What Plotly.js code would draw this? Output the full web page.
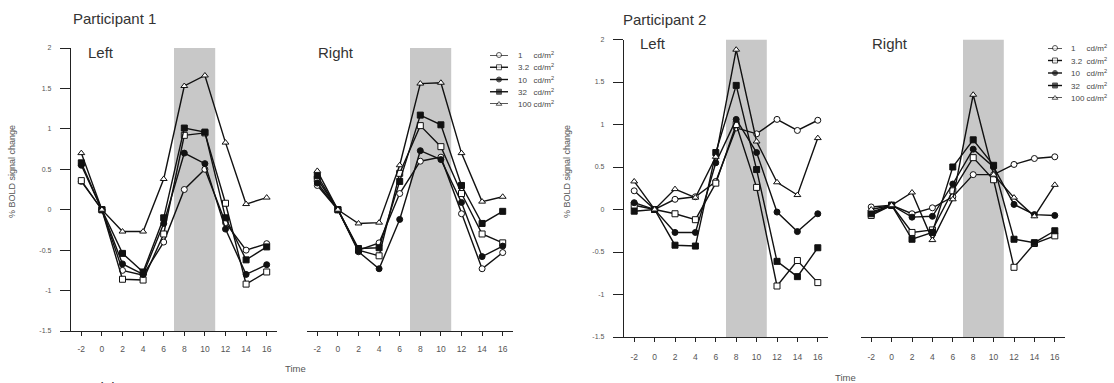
<!DOCTYPE html>
<html>
<head>
<meta charset="utf-8">
<script src="https://cdn.plot.ly/plotly-3.0.1.min.js"></script>
<style>html,body{margin:0;padding:0;background:#fff;}#chart{width:1114px;height:383px;}</style>
</head>
<body>
<div id="chart"></div>
<script>
// ---- data ----
const TIME = [-2, 0, 2, 4, 6, 8, 10, 12, 14, 16];
const LEVELS = ['1', '3.2', '10', '32', '100'];
const UNIT = 'cd/m<sup>2</sup>';
const Y_TICKS = [-1.5, -1, -0.5, 0, 0.5, 1, 1.5, 2];
const Y_TICK_TEXT = ['-1.5', '-1', '-0.5', '0', '0.5', '1', '1.5', '2'];
const STIM = [7, 11];

const P1_LEFT_1   = [0.35, 0, -0.75, -0.81, -0.40, 0.25, 0.50, -0.16, -0.50, -0.42];
const P1_LEFT_3   = [0.36, 0, -0.86, -0.87, -0.30, 0.92, 0.95, 0.08, -0.92, -0.77];
const P1_LEFT_10  = [0.55, 0, -0.67, -0.80, -0.17, 0.70, 0.57, -0.24, -0.80, -0.68];
const P1_LEFT_32  = [0.58, 0, -0.54, -0.77, -0.10, 1.01, 0.96, -0.10, -0.62, -0.46];
const P1_LEFT_100 = [0.70, 0, -0.27, -0.27, 0.38, 1.53, 1.66, 0.83, 0.07, 0.15];

const P1_RIGHT_1   = [0.30, 0, -0.50, -0.41, 0.20, 0.60, 0.65, -0.05, -0.73, -0.53];
const P1_RIGHT_3   = [0.38, 0, -0.50, -0.57, 0.45, 1.04, 0.78, 0.20, -0.30, -0.41];
const P1_RIGHT_10  = [0.33, 0, -0.52, -0.73, -0.12, 0.73, 0.62, 0.09, -0.58, -0.45];
const P1_RIGHT_32  = [0.42, 0, -0.48, -0.47, 0.35, 1.17, 1.05, 0.30, -0.17, -0.02];
const P1_RIGHT_100 = [0.48, 0, -0.17, -0.16, 0.55, 1.56, 1.57, 0.70, 0.10, 0.16];

const P2_LEFT_1   = [0.22, 0, 0.12, 0.15, 0.33, 0.96, 0.89, 1.06, 0.93, 1.05];
const P2_LEFT_3   = [0.05, 0, -0.05, -0.12, 0.31, 1.00, 0.26, -0.90, -0.60, -0.86];
const P2_LEFT_10  = [0.08, 0, -0.27, -0.27, 0.55, 1.06, 0.67, -0.03, -0.26, -0.05];
const P2_LEFT_32  = [-0.02, 0, -0.42, -0.43, 0.67, 1.46, 0.47, -0.61, -0.79, -0.45];
const P2_LEFT_100 = [0.33, 0, 0.24, 0.14, 0.62, 1.88, 0.80, 0.32, 0.17, 0.84];

const P2_RIGHT_1   = [0.03, 0.05, -0.05, 0.02, 0.15, 0.41, 0.41, 0.53, 0.60, 0.62];
const P2_RIGHT_3   = [-0.07, 0.05, -0.27, -0.24, 0.22, 0.61, 0.35, -0.68, -0.40, -0.31];
const P2_RIGHT_10  = [-0.03, 0.05, -0.09, -0.08, 0.30, 0.71, 0.50, 0.06, -0.06, -0.07];
const P2_RIGHT_32  = [-0.05, 0.05, -0.35, -0.27, 0.50, 0.82, 0.52, -0.35, -0.39, -0.25];
const P2_RIGHT_100 = [0.00, 0.05, 0.20, -0.36, 0.12, 1.35, 0.41, 0.14, -0.08, 0.29];

// ---- styling / layout ----
const W = 1114, H = 383;
const FONT = 'Arial, "Liberation Sans", sans-serif';
const px = v => v / W;
const py = v => 1 - v / H;

const STYLES = [
  {symbol: 'circle', color: '#fff'},
  {symbol: 'square', color: '#fff'},
  {symbol: 'circle', color: '#111'},
  {symbol: 'square', color: '#111'},
  {symbol: 'triangle-up', color: '#fff'}
];

const panels = [
  {xa: 'x',  ya: 'y',  series: [P1_LEFT_1, P1_LEFT_3, P1_LEFT_10, P1_LEFT_32, P1_LEFT_100]},
  {xa: 'x2', ya: 'y2', series: [P1_RIGHT_1, P1_RIGHT_3, P1_RIGHT_10, P1_RIGHT_32, P1_RIGHT_100]},
  {xa: 'x3', ya: 'y3', series: [P2_LEFT_1, P2_LEFT_3, P2_LEFT_10, P2_LEFT_32, P2_LEFT_100]},
  {xa: 'x4', ya: 'y4', series: [P2_RIGHT_1, P2_RIGHT_3, P2_RIGHT_10, P2_RIGHT_32, P2_RIGHT_100]}
];

const traces = [];
panels.forEach(p => {
  p.series.forEach((vals, i) => {
    traces.push({
      type: 'scatter', mode: 'lines+markers', x: TIME, y: vals,
      xaxis: p.xa, yaxis: p.ya, showlegend: false, hoverinfo: 'skip',
      line: {color: '#111', width: 1.4},
      marker: {symbol: STYLES[i].symbol, size: 6, color: STYLES[i].color, line: {color: '#111', width: 1}},
      cliponaxis: false
    });
  });
});

// custom compact legends (one per participant)
const legends = [
  {xa: 'x5', ya: 'y5'},
  {xa: 'x6', ya: 'y6'}
];
legends.forEach(l => {
  LEVELS.forEach((lv, i) => {
    traces.push({
      type: 'scatter', mode: 'lines+markers', x: [0, 0.5, 1], y: [i, i, i],
      xaxis: l.xa, yaxis: l.ya, showlegend: false, hoverinfo: 'skip',
      line: {color: '#111', width: 1.4},
      marker: {symbol: STYLES[i].symbol, size: [0, 5, 0], color: STYLES[i].color, line: {color: '#111', width: 1}},
      cliponaxis: false
    });
  });
});

function xAxis(d0, d1, anchor, standoff) {
  return {
    domain: [px(d0), px(d1)], range: [-3, 17], anchor: anchor,
    tickvals: TIME, ticktext: TIME.map(String),
    showline: true, linecolor: '#222', linewidth: 1.2,
    ticks: 'outside', ticklen: 4, tickwidth: 1, tickcolor: '#222',
    ticklabelstandoff: standoff,
    tickfont: {family: FONT, size: 8.5, color: '#555'},
    showgrid: false, zeroline: false, fixedrange: true
  };
}
function yAxis(top, bottom, anchor, shown) {
  const ax = {
    domain: [py(bottom), py(top)], range: [-1.5, 2], anchor: anchor,
    showgrid: false, zeroline: false, fixedrange: true
  };
  if (!shown) { ax.visible = false; return ax; }
  return Object.assign(ax, {
    tickvals: Y_TICKS, ticktext: Y_TICK_TEXT,
    showline: true, linecolor: '#222', linewidth: 1.2,
    ticks: 'outside', ticklen: 10, tickwidth: 1, tickcolor: '#222',
    ticklabelstandoff: 7,
    tickfont: {family: FONT, size: 7, color: '#555'}
  });
}
function legAxisX(d0, d1, anchor) {
  return {domain: [px(d0), px(d1)], range: [0, 1], anchor: anchor, visible: false,
          showticklabels: false, ticks: '', tickvals: [], fixedrange: true};
}
function legAxisY(top, bottom, anchor) {
  return {domain: [py(bottom), py(top)], range: [4, 0], anchor: anchor, visible: false,
          showticklabels: false, ticks: '', tickvals: [], fixedrange: true};
}

const shapes = ['x', 'x2', 'x3', 'x4'].map((xa, k) => ({
  type: 'rect', xref: xa, yref: ['y', 'y2', 'y3', 'y4'][k],
  x0: STIM[0], x1: STIM[1], y0: -1.5, y1: 2,
  fillcolor: '#c8c8c8', line: {width: 0}, layer: 'below'
}));

function txt(text, x, y, size, opts) {
  return Object.assign({
    text: text, x: px(x), y: py(y), xref: 'paper', yref: 'paper',
    xanchor: 'left', yanchor: 'middle', showarrow: false,
    font: {family: FONT, size: size, color: '#333'}
  }, opts || {});
}

const annotations = [
  txt('Participant 1', 71, 18, 15),
  txt('Participant 2', 621, 19, 15),
  txt('Left', 86, 52, 15),
  txt('Right', 316, 52, 15),
  txt('Left', 638, 43, 15),
  txt('Right', 870, 43, 15),
  txt('Time', 283, 368, 9.5, {font: {family: FONT, size: 9.5, color: '#555'}}),
  txt('Time', 833, 377, 9.5, {font: {family: FONT, size: 9.5, color: '#555'}}),
  txt('% BOLD signal change', 12, 172, 9, {xanchor: 'center', textangle: -90, font: {family: FONT, size: 9, color: '#555'}}),
  txt('% BOLD signal change', 567, 172, 9, {xanchor: 'center', textangle: -90, font: {family: FONT, size: 9, color: '#555'}}),
  txt('Participant 3', 71, 377, 15, {yanchor: 'top'})
];
// legend labels: one text per row, number padded so the units line up
const PAD = {'1': 5, '3.2': 2, '10': 3, '32': 3, '100': 1};
const LEG1 = {numX: 516, rows: [55, 67, 80, 92, 104]};
const LEG2 = {numX: 1069, rows: [48, 61, 73, 86, 98]};
[LEG1, LEG2].forEach(L => {
  LEVELS.forEach((lv, i) => {
    const label = lv + '&nbsp;'.repeat(PAD[lv]) + UNIT;
    annotations.push(txt(label, L.numX, L.rows[i], 8, {font: {family: FONT, size: 8, color: '#444'}}));
  });
});

const layout = {
  width: W, height: H,
  margin: {l: 0, r: 0, t: 0, b: 0},
  paper_bgcolor: '#fff', plot_bgcolor: 'rgba(0,0,0,0)',
  showlegend: false,
  font: {family: FONT},
  xaxis:  xAxis(71, 277, 'y', 6),
  yaxis:  yAxis(48, 331, 'x', true),
  xaxis2: xAxis(307, 513, 'y2', 6),
  yaxis2: yAxis(48, 331, 'x2', false),
  xaxis3: xAxis(624, 828, 'y3', 8),
  yaxis3: yAxis(39.5, 337, 'x3', true),
  xaxis4: xAxis(861, 1065, 'y4', 8),
  yaxis4: yAxis(39.5, 337, 'x4', false),
  xaxis5: legAxisX(490, 508, 'y5'),
  yaxis5: legAxisY(LEG1.rows[0], LEG1.rows[4], 'x5'),
  xaxis6: legAxisX(1048, 1062, 'y6'),
  yaxis6: legAxisY(LEG2.rows[0], LEG2.rows[4], 'x6'),
  shapes: shapes,
  annotations: annotations
};

Plotly.newPlot('chart', traces, layout, {staticPlot: true, displayModeBar: false});
</script>
</body>
</html>
